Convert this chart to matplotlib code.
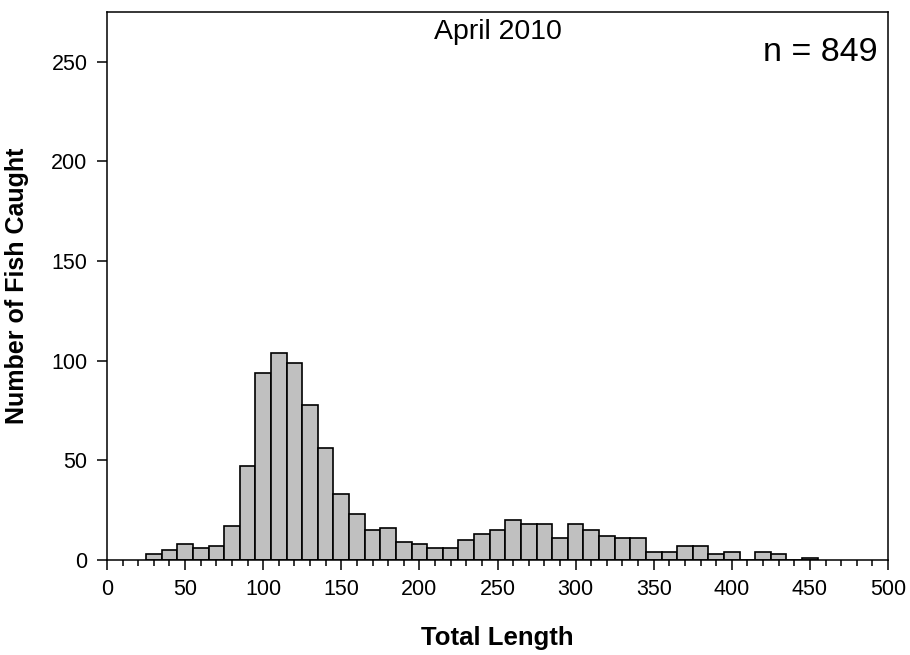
import matplotlib
matplotlib.use("Agg")
import matplotlib.pyplot as plt
from matplotlib.ticker import MultipleLocator

plt.rcParams['font.family'] = ['Liberation Sans', 'DejaVu Sans']

bin_centers = [30, 40, 50, 60, 70, 80, 90, 100, 110, 120, 130, 140, 150, 160, 170,
               180, 190, 200, 210, 220, 230, 240, 250, 260, 270, 280, 290, 300, 310,
               320, 330, 340, 350, 360, 370, 380, 390, 400, 410, 420, 430, 440, 450]
counts = [3, 5, 8, 6, 7, 17, 47, 94, 104, 99, 78, 56, 33, 23, 15,
          16, 9, 8, 6, 6, 10, 13, 15, 20, 18, 18, 11, 18, 15,
          12, 11, 11, 4, 4, 7, 7, 3, 4, 0, 4, 3, 0, 1]
bin_width = 10
title_text = "April 2010"
n_text = "n = 849"
xlabel = "Total Length"
ylabel = "Number of Fish Caught"

fig = plt.figure(figsize=(9.1, 6.55), dpi=100)
ax = fig.add_axes([107/910, 1-560/655, (888-107)/910, (560-12)/655])

ax.bar(bin_centers, counts, width=bin_width, color='#C0C0C0', edgecolor='black',
       linewidth=1.2, align='center')

ax.set_xlim(0, 500)
ax.set_ylim(0, 275)
ax.xaxis.set_major_locator(MultipleLocator(50))
ax.xaxis.set_minor_locator(MultipleLocator(10))
ax.yaxis.set_major_locator(MultipleLocator(50))
ax.tick_params(axis='both', which='major', direction='out', length=7, width=1.1,
               labelsize=15.5, pad=7)
ax.tick_params(axis='x', which='minor', direction='out', length=4, width=1.1)
for s in ax.spines.values():
    s.set_linewidth(1.1)

ax.text(0.5, (560-38.7)/548, title_text, transform=ax.transAxes, ha='center',
        va='baseline', fontsize=20.5)
ax.text((878-107)/781, (560-60.7)/548, n_text, transform=ax.transAxes, ha='right',
        va='baseline', fontsize=24.5)

fig.text(497.5/910, 1-645/655, xlabel, ha='center', va='baseline', fontsize=18.5,
         fontweight='bold')
fig.text(17/910, 1-286/655, ylabel, ha='center', va='center', rotation=90,
         fontsize=18, fontweight='bold')

fig.savefig('out.png', dpi=100)
